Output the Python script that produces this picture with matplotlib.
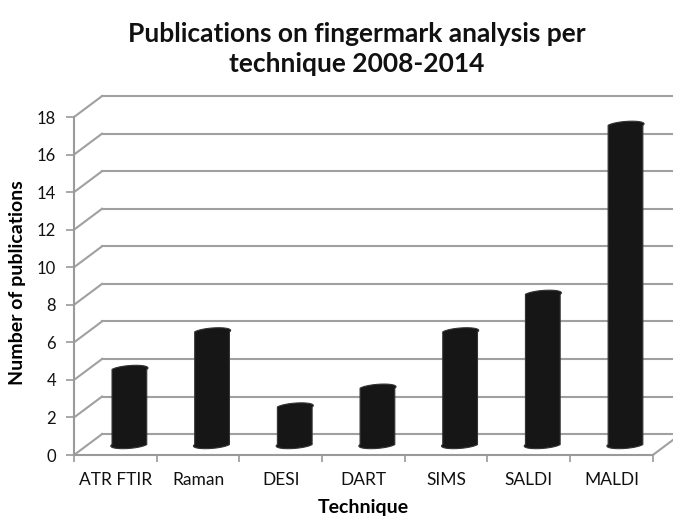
import numpy as np
import matplotlib
matplotlib.use("Agg")
import matplotlib.pyplot as plt
from matplotlib.patches import Polygon

techniques = ["ATR FTIR", "Raman", "DESI", "DART", "SIMS", "SALDI", "MALDI"]
publications = [4, 6, 2, 3, 6, 8, 17]
y_ticks = [0, 2, 4, 6, 8, 10, 12, 14, 16, 18]

plt.rcParams['font.family'] = ['Lato', 'DejaVu Sans']

GRID = '#a0a0a0'
BAR = '#161616'

fig = plt.figure(figsize=(6.73, 5.18), dpi=100)
ax = fig.add_axes([0.110, 0.1216, 0.860, 0.6525])
n = len(techniques)
ax.set_xlim(0, n)
ax.set_ylim(0, 18)

# oblique depth offset of the back wall, in data units
dx, dy = 0.339, 1.115

# back wall lines and side-wall diagonals
for v in y_ticks:
    ax.plot([dx, n + dx], [v + dy, v + dy], color=GRID, lw=1.5, clip_on=False, zorder=1)
    ax.plot([0, dx], [v, v + dy], color=GRID, lw=1.5, clip_on=False, zorder=1)
ax.plot([n, n + dx], [0, dy], color=GRID, lw=1.5, clip_on=False, zorder=1)

# cylinders sit halfway into the depth
w = 0.21
ky, kx = 0.22, 0.08
t_lo = np.linspace(np.pi, 2 * np.pi, 60)
t_hi = np.linspace(0, np.pi, 60)
for i, v in enumerate(publications):
    xc = i + 0.5 + dx / 2
    y0 = dy / 2
    y1 = v + dy / 2
    xs = np.concatenate([xc + w * np.cos(t_lo) + kx * np.sin(t_lo),
                         xc + w * np.cos(t_hi) + kx * np.sin(t_hi)])
    ys = np.concatenate([y0 + ky * np.sin(t_lo), y1 + ky * np.sin(t_hi)])
    ax.add_patch(Polygon(np.column_stack([xs, ys]), closed=True, facecolor=BAR,
                         edgecolor='#333333', lw=0.8, clip_on=False, zorder=3))

for s in ['top', 'right']:
    ax.spines[s].set_visible(False)
for s in ['left', 'bottom']:
    ax.spines[s].set_color('#9a9a9a')
    ax.spines[s].set_linewidth(1.5)

ax.set_yticks(y_ticks)
ax.set_yticklabels([str(v) for v in y_ticks], fontsize=12, color='#111111')
ax.tick_params(axis='y', length=6, width=1.2, color='#9a9a9a', pad=7)

ax.set_xticks(np.arange(n) + 0.5)
ax.set_xticklabels(techniques, fontsize=12.5, color='#111111')
ax.set_xticks(np.arange(n + 1), minor=True)
ax.tick_params(axis='x', which='major', length=0, pad=12)
ax.tick_params(axis='x', which='minor', length=5, width=1.2, color='#9a9a9a')

ax.set_xlabel("Technique", fontsize=14, fontweight='bold')
ax.xaxis.set_label_coords(0.5, -0.13)
ax.set_ylabel("Number of publications", fontsize=14, fontweight='bold', va='center')
ax.yaxis.set_label_coords(-0.097, 0.51)

fig.text(0.53, 0.905, "Publications on fingermark analysis per\ntechnique 2008-2014",
         ha='center', va='center', fontsize=19, fontweight='bold',
         linespacing=1.3, color='#111111')

fig.savefig("out.png", dpi=100)
